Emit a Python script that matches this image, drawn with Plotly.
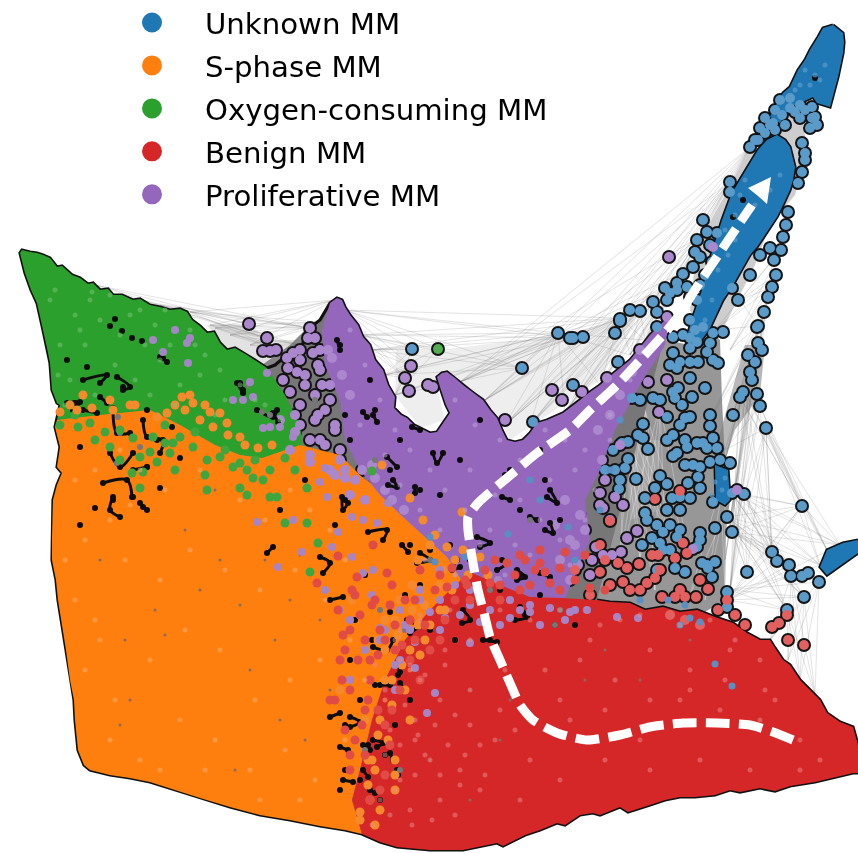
import plotly.graph_objects as go

# ---- categories / colours
categories = ["Unknown MM", "S-phase MM", "Oxygen-consuming MM", "Benign MM", "Proliferative MM"]
colors = ["#1f77b4", "#ff7f0e", "#2ca02c", "#d62728", "#9467bd"]

# ---- outer edges of the big cloud, in embedding coordinates
top_green_x = [20,22,30,37,43,50,57,62,72,80,88,93,100,108,113,122,133,140,150,160,170,180,187,192,200,207,214,220,227,235,247,255,267]
top_green_y = [253,250,252,253,255,258,267,266,275,278,284,283,290,289,295,295,300,299,305,307,310,309,312,320,326,333,332,343,350,348,355,360,368]
top_purple_x = [275,287,302,306,312,320,326,330,337,342,345,350,358,363,370,375,383,388,395,394,401,407,414,420,430,437,443,450,446,443,440,437,442,447,455,463,472,483,490,497,502,507,515,523,530,537,547,563,575,590,600,615,630,640,650,660,670]
top_purple_y = [365,355,347,330,326,320,310,303,298,300,307,315,325,337,345,360,370,385,397,408,415,418,425,428,433,432,423,413,405,397,387,377,373,372,378,385,392,400,410,418,430,440,442,440,433,423,420,413,404,392,385,372,360,348,335,325,315]
left_upper_x = [20,25,31,37,43,47,50,52,57,60]
left_upper_y = [253,273,290,303,330,348,363,390,403,405]
left_lower_x = [57,55,60,57,62,57,53,52,52,56,58,62,66,70,74,75,78,84,90]
left_lower_y = [420,427,447,467,473,485,500,537,560,580,600,625,650,680,700,720,750,765,770]
bottom_orange_x = [110,130,150,175,200,230,260,290,320,345,362]
bottom_orange_y = [775,778,782,790,798,807,815,820,826,830,834]
bottom_red_x = [380,397,430,463,497,503,525,540,557,565,580,593,600,620,628,650,665,680,695,715,730,740,760,775,790,815,835,853,858]
bottom_red_y = [842,847,850,850,843,846,835,830,823,825,815,813,815,807,812,805,800,797,797,795,790,792,788,791,786,782,777,773,773]
right_red_x = [858,853,840,827,820,810,800,790,783,775,770,760,747,733,715,697,680,663,645,630,610,597]
right_red_y = [745,727,722,713,700,690,680,665,660,648,640,640,633,623,617,610,612,607,610,603,602,600]

# ---- inner boundaries between clusters
green_inner_x = [285,300,303,285,262,240,215,180,150,100,57]
green_inner_y = [395,425,450,452,458,455,445,425,410,415,420]
orange_top_x = [57,100,150,180,215,240,262,300,340,363,403,427,447,465]
orange_top_y = [420,415,410,425,445,455,458,445,455,478,505,515,545,590]
mix_edge_x = [430,405,385,372,360,352]
mix_edge_y = [610,640,680,720,770,800]
red_top_x = [563,530,500,470,450]
red_top_y = [598,597,585,572,590]
purple_low_x = [665,640,615,600,585,590,560,480,447,403,380,360,345,340,325,322]
purple_low_y = [345,385,430,470,500,540,610,610,557,517,495,470,440,400,365,330]
purple_peak_start = 7   # index of the peak-side start on top_purple

# ---- blue lobes
blue_top_x = [833,843,844,843,838,834,830,817,813,800,790,780,770,775,783,790,798,805,810,818,823]
blue_top_y = [25,33,42,53,77,92,107,103,97,103,107,123,117,107,93,87,70,60,50,37,28]
blue_lobe_x = [777,785,790,795,793,790,783,777,767,757,750,743,733,723,716,710,703,697,688,688,692,697,702,712,722,732,741,750,758,767]
blue_lobe_y = [135,140,147,167,180,190,205,217,232,247,255,267,285,300,315,328,338,345,345,333,320,305,290,252,220,193,178,163,150,140]
blue_right_x = [858,843,827,820,827,858]
blue_right_y = [540,543,550,567,575,553]
blue_blob_x = [715,728,730,725,716]
blue_blob_y = [465,470,500,505,500]

# ---- grey edge bundles behind the clouds
mesh_right_x = [585,600,615,640,665,690,710,720,722,725,730,726,725,700,630,568]
mesh_right_y = [500,460,430,385,340,345,330,340,400,460,500,530,600,615,612,602]
mesh_band_x = [745,765,760,735,722,718]
mesh_band_y = [345,345,395,430,470,440]
mesh_streak_x = [750,768,800,808,795,770,755,735,720,700,690,697,725]
mesh_streak_y = [147,125,110,150,195,225,265,305,335,330,310,245,195]
mesh_left_x = [262,290,310,330,360,385,363,340,300,285,267]
mesh_left_y = [365,345,325,320,400,495,487,463,445,400,368]
mesh_gap_x = [396,440,560,620,640,600,540,510,497,465,445,435,445,420,395]
mesh_gap_y = [350,350,335,320,310,380,420,440,415,385,370,380,420,428,395]
mesh_top_x = [207,250,270,300,310,285,267,227]
mesh_top_y = [325,325,340,340,350,360,368,350]
light_patch_x = [625,660,655,630]
light_patch_y = [440,440,512,520]

edge_fans = [
    ([(190,312),(210,325),(230,335),(250,345),(215,328)], [(310,328),(320,322),(300,345),(280,350),(335,300)]),
    ([(95,285),(135,300),(160,305)], [(249,324),(267,338),(310,328)]),
    ([(345,310),(360,335),(370,350),(385,375),(395,395)], [(412,349),(438,349),(411,366),(405,378),(522,368),(558,333),(620,318),(570,338)]),
    ([(460,382),(485,400),(505,425),(530,425),(565,412),(600,385),(630,355),(645,340)], [(558,333),(620,318),(640,310),(665,288),(693,267),(707,232),(730,182),(750,147)]),
    ([(740,397),(760,406),(766,428),(745,392)], [(732,532),(802,506),(827,550),(772,552),(725,450),(730,590)]),
    ([(732,493),(744,494),(727,517),(732,532),(727,600)], [(802,506),(772,552),(777,561),(789,565),(747,572),(820,565),(840,545),(787,610),(804,597)]),
    ([(787,610),(804,597),(819,582),(791,576)], [(770,640),(788,660),(800,680),(815,695),(730,590),(735,530)]),
    ([(758,326),(764,312),(768,297),(757,343)], [(710,420),(725,460),(730,520),(733,415),(730,590),(725,560)]),
    ([(772,287),(776,275),(781,250),(758,326)], [(740,300),(730,350),(715,330)]),
    ([(802,506),(766,428)], [(840,545),(820,565),(772,552),(747,572)]),
]
light_fans = [
    ([(630,420),(645,410),(660,405),(625,440)], [(620,560),(640,560),(665,530),(690,560),(655,590)]),
    ([(725,470),(722,520)], [(705,600),(725,590),(690,595)]),
]

# ---- individually visible cells with outlines
blue_pts_x = [573,583,615,620,618,573,695,703,713,723,690,697,710,707,690,713,718,673,673,680,677,690,698,670,757,758,762,748,755,750,752,743,740,757,760,766,733,710,710,690,705,692,678,675,682,673,653,660,640,632,667,685,690,680,643,638,643,628,622,613,648,628,625,615,605,636,620,619,667,673,685,673,677,687,697,703,713,717,707,685,693,700,710,720,730,698,700,688,660,667,655,645,672,680,690,667,680,713,732,744,802,727,732,715,645,647,657,663,670,680,677,652,660,642,670,663,700,700,697,702,707,715,708,712,675,657,685,727,727,787,804,772,777,789,791,802,808,819,747,750,760,765,758,773,802,805,805,802,798,810,815,812,817,730,730,788,786,783,781,770,774,776,772,768,764,758,703,707,697,695,700,693,683,677,665,667,653,657,630,640,620,732,670,677,687,717,657,412,522,558,570,533,775,782,790,795,770,785,775,805,800,812,712,705,700,697,690,683,710,760,750,738,780,790,800,765,755]
blue_pts_y = [338,337,333,321,362,385,330,327,333,332,338,342,343,352,348,360,363,337,353,362,368,362,362,365,327,343,350,355,362,372,380,392,397,394,406,428,415,415,426,378,388,397,388,398,405,392,398,400,400,398,417,418,417,425,424,435,438,442,443,450,449,459,468,470,470,479,480,489,440,435,440,456,453,447,443,443,438,448,448,465,465,467,462,460,463,477,488,483,476,484,488,498,498,497,498,510,510,502,493,494,506,517,532,528,513,520,525,532,525,530,537,538,543,545,550,550,533,540,547,563,565,562,568,577,568,570,572,592,607,610,597,552,561,565,576,576,573,582,572,147,128,133,140,123,143,153,160,172,183,128,117,107,125,182,192,212,225,237,250,248,260,275,287,297,312,326,220,232,240,252,257,267,274,283,288,300,302,312,310,311,319,288,293,290,287,233,327,349,368,333,338,422,110,115,108,112,125,125,130,110,118,118,262,275,285,300,320,335,245,255,275,300,100,98,105,118,140]

purple_pts_x = [596,637,627,621,603,612,623,615,603,602,693,659,667,600,607,582,737,669,713,690,667,411,405,409,428,433,552,562,505,249,267,263,270,276,310,308,315,300,293,287,300,288,297,313,320,305,322,283,290,315,330,300,318,335,280,295,310,325,340,290,310,330,345,318,300,332,350,362,600,610,585,575,592,580,605,565,555,570,590,578,560,570,598,610,620,632,640,620,648,320,330,325,335,305,315,295,345,355,365,340,320,310,335,350,328,342,375,372,385,392,404]
purple_pts_y = [547,531,538,552,555,555,505,497,508,460,549,412,380,493,378,392,490,257,247,297,317,366,378,391,385,387,390,400,420,324,338,351,351,350,328,338,338,350,353,358,360,368,372,353,350,375,385,380,392,395,400,405,415,425,420,432,440,445,460,450,462,470,478,365,425,358,395,470,505,520,530,545,560,515,480,500,525,540,575,565,560,580,430,415,395,372,350,445,382,370,385,410,430,385,420,415,470,480,500,450,440,455,475,495,350,375,478,465,490,500,510]

red_pts_x = [680,655,610,683,639,652,658,675,687,660,618,627,623,647,662,680,675,685,708,727,696,788,804,772,779,787,685,600,610,590,575,640,655,700,735,745,718,700,670,630,605,600]
red_pts_y = [491,499,521,543,564,555,555,558,553,570,563,568,582,583,597,590,597,597,589,600,597,640,645,627,623,615,620,572,585,595,570,590,578,580,615,625,610,625,615,590,560,545]

green_pts_x = [438,240,247,253,263,240,247,233,220,207,193,180,173,170,140,157,143,132,140,153,133,105,78,60,90,207,110,285,307,318,307,270,277,310,372,165,150,120,95,75,285,270,255,295,225,195,165,205,175,120]
green_pts_y = [349,463,470,478,480,488,495,467,457,460,447,437,443,453,457,462,472,473,488,437,438,432,427,425,423,490,447,523,523,543,488,497,497,572,471,443,452,460,440,415,458,470,460,470,450,432,425,475,470,430]

# ---- mixed cells without outline, sitting inside the clouds
mix_orange_x = [182,193,185,210,220,200,213,227,157,167,113,83,77,92,240,382,462,410,423,447,463,480,443,430,455,340,395,372,110,135,418,435,468,452,488,420,360,395,410,385,380,375,370,375,400,392,418,402,388,378,368,360,440,425,405,352,365,395,385,412,245,258,272,228,205,190,175,130,60,70,385,398,412,420,430,445,392,378,368,410,425,440,395,380]
mix_orange_y = [397,403,410,412,413,420,427,423,417,413,410,395,410,408,437,465,512,498,520,547,550,557,570,545,560,690,760,760,400,405,560,535,575,590,575,590,820,620,650,680,720,770,800,825,600,705,625,665,740,640,785,812,610,640,690,600,720,790,650,585,445,448,445,435,405,395,405,405,412,405,620,635,610,655,625,610,680,735,760,720,605,585,775,810]
mix_purple_x = [153,190,187,175,163,188,250,243,233,267,270,253,280,293,263,320,325,327,302,257,293,352,338,388,363,377,332,352,373,363,278,440,420,400,440,470,405,385,427,435,575,587,617,638,440,470,380,410,395,365,350,420,395,470,510,520,325,340,400,415,380,455,498,530,350,372,490,510,530,550,570,500,540,565,480,460,430,445,415]
mix_purple_y = [340,338,343,330,352,363,382,400,400,373,427,397,427,437,428,482,468,497,552,522,520,517,532,503,520,523,547,557,570,573,567,570,590,610,600,590,625,630,713,693,610,610,617,618,630,643,640,630,665,650,680,600,690,605,600,610,590,610,660,668,628,585,580,605,620,595,610,618,612,608,612,625,625,620,622,615,612,618,642]
mix_red_x = [373,338,387,357,465,490,507,525,540,550,560,467,447,317,390,410,370,395,365,400,430,445,415,350,375,385,420,440,455,500,520,535,345,410,380,350,360,370,380,395,405,345,355,368,392,350,365,385,338,342,370,385,402,415,335,352,378,392,425,440,485,500,515,530,545,560,575,590,495,520,540,565,585,605,470,452,435,420,358,372,355,343,365,390,410,340,330,350,378,362]
mix_red_y = [545,556,573,577,580,583,563,560,563,583,568,585,587,583,605,620,660,650,710,690,650,620,640,690,600,640,680,640,600,600,590,570,730,620,790,630,615,680,630,625,600,650,740,700,710,770,755,725,610,680,800,775,645,600,700,590,655,585,625,575,570,585,575,585,572,590,580,588,560,555,550,552,555,590,600,568,590,570,660,605,595,635,640,745,660,660,700,755,710,725]
mix_blue_x = [430,508,568,465,435,715,732,575,600,610,620,640,685,690,700,668,680,530,540]
mix_blue_y = [537,534,527,557,562,664,686,560,510,470,420,600,605,618,622,600,625,480,500]

# ---- paler speckles inside the clouds
spk_green_x = [55,75,90,60,85,100,120,140,155,170,190,205,220,240,255,70,95,115,135,160,180,200,225,110,130,150,65,80,50,58,92,165,145,175,195,215,265,280]
spk_green_y = [290,315,300,345,345,320,335,310,325,345,330,355,370,385,400,380,395,365,380,360,385,375,400,295,315,395,405,330,300,375,292,310,345,405,345,415,405,420]
spk_orange_x = [75,95,120,140,85,110,130,165,200,240,265,290,310,330,345,75,95,125,160,190,225,260,295,325,350,85,115,150,185,220,255,290,320,110,140,180,215,250,285,315,345,365,385,410,300,260,205,160,100,65]
spk_orange_y = [480,470,450,470,540,520,505,490,470,500,520,490,510,530,560,600,620,560,580,550,570,590,570,600,640,670,700,660,630,650,700,680,660,740,760,720,740,770,750,780,740,680,700,670,800,800,770,770,640,560]
spk_purple_x = [350,365,380,395,410,430,455,475,500,520,545,565,585,610,630,420,445,470,495,520,550,575,595,360,385,400,440,465,490,515,540,560,585,610,425,455,480,505,530,570]
spk_purple_y = [330,365,400,430,450,470,400,425,440,460,430,440,450,415,380,510,490,470,495,500,480,470,490,425,455,485,530,510,530,545,520,540,520,440,560,575,545,575,555,565]
spk_red_x = [400,420,445,470,500,530,560,590,620,650,680,710,735,760,390,415,440,470,505,545,580,615,650,690,725,765,400,430,460,495,530,570,605,640,680,720,760,800,820,380,410,440,480,520,560,605,650,700,750,800,385,420,450,560,600,640,690,730,775,415,395,410,425,445,405,418,435,455,470,385,400,425,448,465,480,395,415,440,460,485,375,400,420,372,390,412,432,455,500,515]
spk_red_y = [660,680,650,640,610,620,610,640,620,650,625,620,640,660,730,720,700,690,670,670,660,680,700,670,680,690,780,760,770,740,760,720,710,740,700,710,720,740,760,800,810,800,790,800,780,760,770,760,770,770,690,620,610,700,625,615,690,650,700,740,640,665,675,665,705,735,725,715,725,755,745,755,745,755,745,790,775,775,785,775,665,630,615,825,815,825,820,815,710,730]
spk_blue_x = [805,815,810,800,820,825,795,740,725,735,718,712,705,728,745,735,755,770,780,725,722,715,712]
spk_blue_y = [70,75,85,85,80,65,90,195,230,215,270,300,320,255,180,240,205,190,175,478,490,482,495]

# ---- small gaps between clouds where the black outline shows
gap_x = [110,115,122,132,142,163,67,87,123,75,147,172,157,80,147,180,113,133,95,160,143,80,355,372,350,390,405,420,440,375,400,360,345,368,385,345,340,395,410,360,380,430,455,470,500,520,540,555,575,525,490,365,335,345,305,280,410,430,450,470,560,545,510,520,480,375,370,340,345,350,400,390,420,440,460,505,540,815,743,733]
gap_y = [326,319,331,338,341,358,360,367,387,403,410,427,440,447,467,458,500,497,508,488,507,525,620,640,660,612,595,585,610,685,672,700,725,745,755,770,790,725,700,780,800,630,640,590,590,575,595,625,625,615,640,575,525,500,480,510,545,550,545,560,520,480,470,510,420,410,380,345,415,440,440,470,490,495,460,475,450,78,200,217]
tiny_x = [200,165,125,130,250,275,320,300,240,220,290,185,265,215,155,100,120,305,235,280,330,470,640,690,510,430,585,605,470,500]
tiny_y = [590,635,640,700,670,640,620,555,605,560,600,530,560,490,610,560,725,740,770,720,690,690,680,640,700,760,680,650,800,740]
gap_lines_x = [342,343,348,None,368,387,383,None,387,397,None,388,397,393,None,415,415,None,502,510,None,550,557,547,None,530,537,None,550,553,545,None,477,490,480,None,497,507,502,None,517,525,517,None,540,550,None,402,408,None,420,430,417,None,457,452,460,None,320,330,323,None,273,267,None,433,437,443,None,412,420,None,373,377,None,363,367,None,337,340,None,237,243,None,273,278,None,
               330,343,None,407,417,410,None,373,387,393,None,463,470,462,None,520,527,515,None,400,398,None,380,390,None,400,405,None,350,360,350,None,373,383,377,None,340,348,None,363,370,None,390,393,None,343,353,None,363,368,None,397,398,None,370,375,None,483,497,None,330,340,None,
               83,107,100,None,117,130,123,None,100,107,None,67,80,73,None,113,117,130,None,83,97,None,143,147,163,160,None,110,120,133,None,133,147,None,103,127,132,None,113,110,120,None,140,147,None,240,243,None,257,273,277,None,160,167]
gap_lines_y = [497,510,503,None,532,530,540,None,457,467,None,485,487,480,None,487,493,None,497,500,None,490,503,497,None,517,520,None,523,533,530,None,537,543,547,None,570,563,560,None,570,577,580,None,573,577,None,545,552,None,553,560,563,None,560,570,567,None,557,563,573,None,547,553,None,453,463,453,None,427,430,None,415,422,None,412,417,None,340,350,None,383,393,None,413,422,None,
               600,597,None,620,627,633,None,647,650,640,None,610,620,623,None,607,617,620,None,667,675,None,685,685,None,683,690,None,717,722,727,None,740,743,747,None,747,750,None,745,750,None,753,760,None,780,782,None,770,777,None,770,775,None,790,793,None,640,642,None,717,713,None,
               380,375,383,None,377,387,390,None,397,403,None,403,402,410,None,408,433,433,None,410,413,None,420,437,440,453,None,453,467,453,None,470,467,None,483,480,497,None,497,510,517,None,503,510,None,383,390,None,410,417,410,None,357,362]
gap_grey_x = [118,140,117,380,405,365,400,555,560,490,270,315,340,430,530,375,248,262,120]
gap_grey_y = [417,447,463,610,630,750,770,625,610,590,415,400,440,560,520,460,385,412,433]

# ---- white trajectory arrow
traj_x = [793,773,750,717,683,650,620,587,557,533,520,510,500,490,485,478,472,468,468,478,513,537,570,590,617,643,663,677,700,717,737,752]
traj_y = [740,732,725,723,723,727,735,740,733,720,705,683,660,637,617,590,557,530,517,503,473,453,430,410,385,357,335,318,282,257,227,205]
arrow_x = [771,748,758,767]
arrow_y = [177,188,196,204]

# ---- compose cluster shapes from the shared edges
outline_x = top_purple_x[::-1] + top_green_x[::-1] + left_upper_x[1:] + left_lower_x + bottom_orange_x + bottom_red_x + right_red_x
outline_y = top_purple_y[::-1] + top_green_y[::-1] + left_upper_y[1:] + left_lower_y + bottom_orange_y + bottom_red_y + right_red_y
green_x = top_green_x + green_inner_x + left_upper_x[::-1]
green_y = top_green_y + green_inner_y + left_upper_y[::-1]
orange_x = orange_top_x + mix_edge_x + [362] + bottom_orange_x[::-1] + left_lower_x[::-1]
orange_y = orange_top_y + mix_edge_y + [834] + bottom_orange_y[::-1] + left_lower_y[::-1]
red_x = [362] + bottom_red_x + right_red_x + red_top_x + mix_edge_x
red_y = [834] + bottom_red_y + right_red_y + red_top_y + mix_edge_y
purple_x = top_purple_x[purple_peak_start:] + purple_low_x
purple_y = top_purple_y[purple_peak_start:] + purple_low_y

fig = go.Figure()

def poly(x, y, fill):
    fig.add_trace(go.Scatter(x=x + x[:1], y=y + y[:1], mode="lines", fill="toself", fillcolor=fill,
                             line=dict(color="rgba(0,0,0,0)", width=0), hoverinfo="skip", showlegend=False))

def fans(pairs, color, width):
    ex, ey = [], []
    for starts, ends in pairs:
        for a in starts:
            for b in ends:
                ex += [a[0], b[0], None]
                ey += [a[1], b[1], None]
    fig.add_trace(go.Scatter(x=ex, y=ey, mode="lines", line=dict(color=color, width=width),
                             hoverinfo="skip", showlegend=False))

# backing bundles
for mx, my, col in [(mesh_gap_x, mesh_gap_y, "rgba(150,150,150,0.16)"),
                    (mesh_top_x, mesh_top_y, "rgba(150,150,150,0.28)"),
                    (mesh_streak_x, mesh_streak_y, "rgba(130,130,130,0.40)"),
                    (mesh_band_x, mesh_band_y, "rgba(125,125,125,0.55)"),
                    (mesh_right_x, mesh_right_y, "rgba(125,125,125,0.80)"),
                    (mesh_left_x, mesh_left_y, "rgba(120,120,120,0.88)"),
                    (light_patch_x, light_patch_y, "rgba(255,255,255,0.15)")]:
    poly(mx, my, col)
fans(edge_fans, "rgba(120,120,120,0.30)", 0.7)
fans(light_fans, "rgba(255,255,255,0.30)", 1)

# outlines
poly(outline_x, outline_y, "#777777")
for ox, oy, closed in [(outline_x, outline_y, False), (blue_top_x, blue_top_y, True), (blue_lobe_x, blue_lobe_y, True),
                       (blue_right_x, blue_right_y, True), (blue_blob_x, blue_blob_y, True)]:
    fig.add_trace(go.Scatter(x=ox + (ox[:1] if closed else []), y=oy + (oy[:1] if closed else []), mode="lines",
                             line=dict(color="#111111", width=3.2), hoverinfo="skip", showlegend=False))

all_x = blue_pts_x + purple_pts_x + red_pts_x + green_pts_x[:1]
all_y = blue_pts_y + purple_pts_y + red_pts_y + green_pts_y[:1]
fig.add_trace(go.Scatter(x=all_x, y=all_y, mode="markers", marker=dict(size=14, color="#141414"),
                         hoverinfo="skip", showlegend=False))

# clouds
poly(green_x, green_y, colors[2])
poly(orange_x, orange_y, colors[1])
poly(purple_x, purple_y, colors[4])
poly(red_x, red_y, colors[3])
for bx, by in [(blue_top_x, blue_top_y), (blue_lobe_x, blue_lobe_y), (blue_right_x, blue_right_y), (blue_blob_x, blue_blob_y)]:
    poly(bx, by, colors[0])

def dots(x, y, color, size, opacity=1.0):
    fig.add_trace(go.Scatter(x=x, y=y, mode="markers", marker=dict(size=size, color=color, opacity=opacity, line=dict(width=0)),
                             hoverinfo="skip", showlegend=False))

dots(blue_pts_x, blue_pts_y, "#5a9bc9", 10)
dots(purple_pts_x, purple_pts_y, "#ab88cd", 10)
dots(red_pts_x, red_pts_y, "#e2605f", 10)
dots(green_pts_x[:1], green_pts_y[:1], "#52ad52", 10)
dots(gap_x, gap_y, "#0d0d0d", 6)
fig.add_trace(go.Scatter(x=gap_lines_x, y=gap_lines_y, mode="lines+markers",
                         line=dict(color="#0d0d0d", width=3, shape="spline"), marker=dict(size=6, color="#0d0d0d"),
                         hoverinfo="skip", showlegend=False))
dots(gap_grey_x, gap_grey_y, "#777777", 6)
dots(tiny_x, tiny_y, "#8a6a60", 3)
dots(green_pts_x[1:], green_pts_y[1:], "#3fa63f", 9)
dots(mix_orange_x, mix_orange_y, "#f58a2c", 9)
dots(mix_purple_x, mix_purple_y, "#a585c6", 8)
dots(mix_red_x, mix_red_y, "#e04b45", 9)
dots(mix_blue_x, mix_blue_y, "#5a8fc4", 7)
dots(spk_green_x, spk_green_y, "#7cc47c", 5, 0.5)
dots(spk_orange_x, spk_orange_y, "#ffb074", 5, 0.5)
dots(spk_purple_x, spk_purple_y, "#bba3d6", 5, 0.55)
dots(spk_red_x, spk_red_y, "#ea8a88", 5, 0.5)
dots(spk_blue_x, spk_blue_y, "#5a9bc9", 5, 0.7)

# trajectory
fig.add_trace(go.Scatter(x=traj_x, y=traj_y, mode="lines", line=dict(color="white", width=9, dash="24px,9px", shape="spline", smoothing=0.6),
                         hoverinfo="skip", showlegend=False))
poly(arrow_x, arrow_y, "white")

# legend
for name, col in zip(categories, colors):
    fig.add_trace(go.Scatter(x=[None], y=[None], mode="markers", name=name, legendgroup=name,
                             marker=dict(size=16, color=col, line=dict(color=col, width=4))))

fig.update_layout(
    width=858, height=853, margin=dict(l=0, r=0, t=0, b=0),
    paper_bgcolor="white", plot_bgcolor="white",
    xaxis=dict(range=[0, 858], visible=False, fixedrange=True),
    yaxis=dict(range=[853, 0], visible=False, fixedrange=True),
    legend=dict(x=99/858, y=1.0, xanchor="left", yanchor="top", bgcolor="rgba(0,0,0,0)", borderwidth=0,
                font=dict(family="DejaVu Sans", size=29.2, color="black"),
                itemwidth=96, tracegroupgap=2, traceorder="grouped", itemclick=False, itemdoubleclick=False),
)
fig.write_html("out.html", config={"displayModeBar": False},
               post_script=("document.body.style.margin='0';"
                            "document.querySelector('.plot-container').style.filter='blur(0.6px)';"
                            "var lg=document.querySelector('.legend');"
                            "lg.setAttribute('transform',lg.getAttribute('transform')+' translate(0,-3)');"))
